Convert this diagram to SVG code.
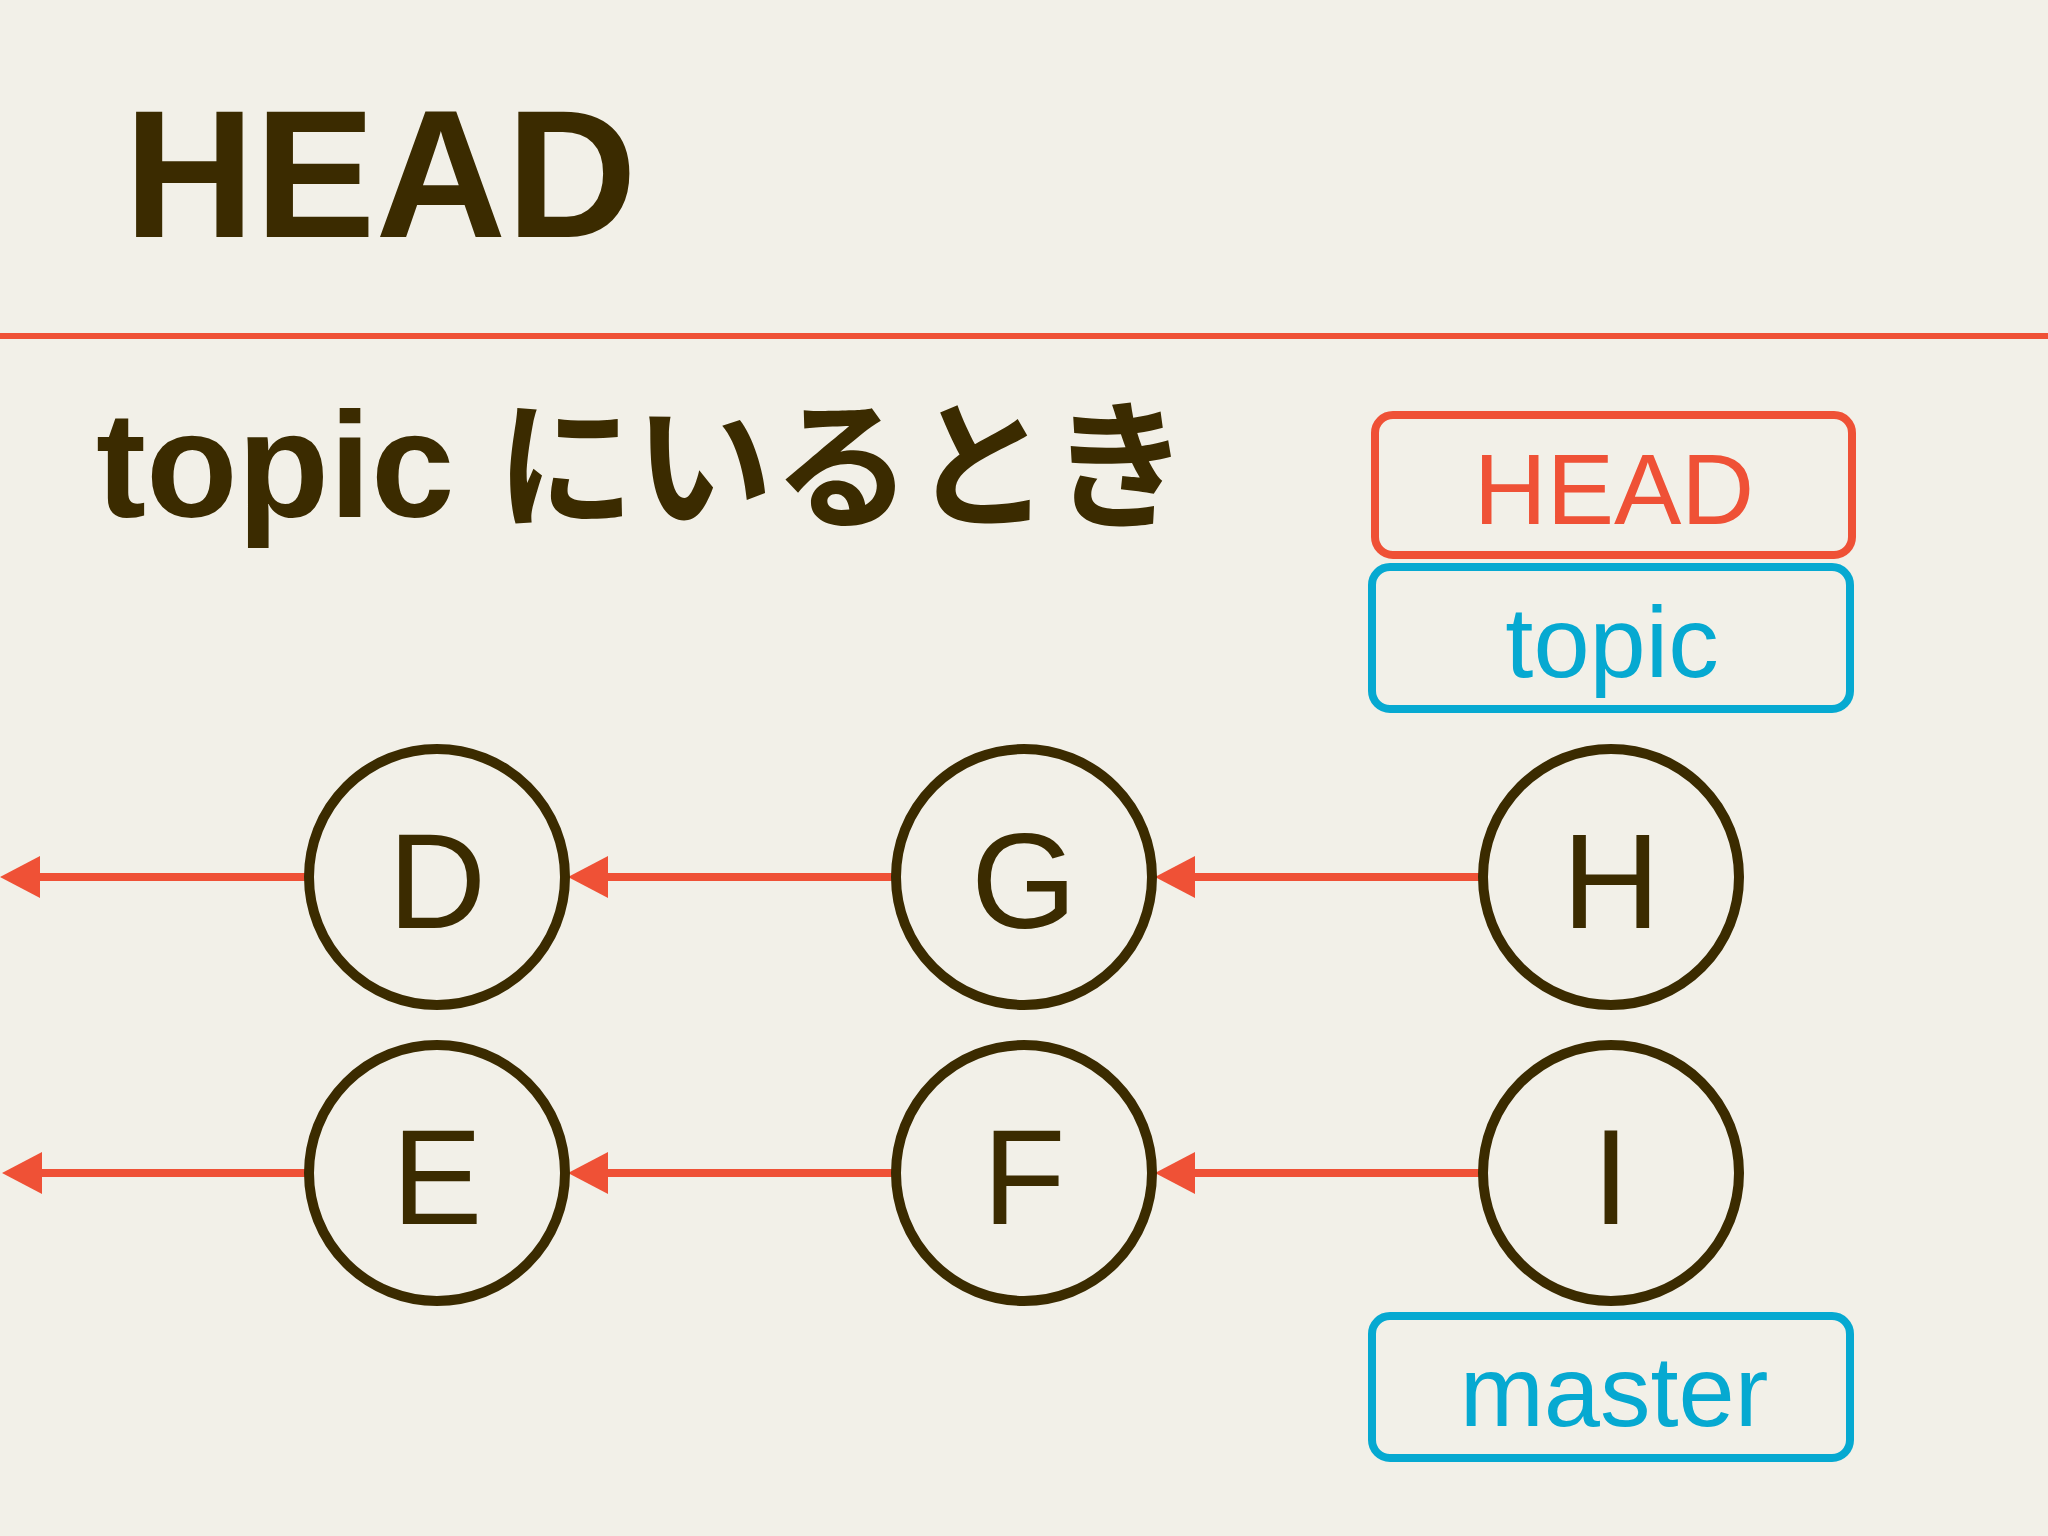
<svg xmlns="http://www.w3.org/2000/svg" width="2048" height="1536" viewBox="0 0 2048 1536">
<style>
.bg{fill:#f2f0e8}
.title{font-family:"Liberation Sans",Arial,sans-serif;font-weight:bold;fill:#3b2b00}
.sub{font-family:"Liberation Sans","Noto Sans CJK JP",sans-serif;font-weight:bold;fill:#3b2b00}
.node circle{fill:none;stroke:#3b2b00;stroke-width:10}
.node text{font-family:"Liberation Sans",Arial,sans-serif;font-size:136px;fill:#3b2b00;text-anchor:middle}
.conn line{stroke:#ef5136;stroke-width:8;fill:none}
.lbl rect{fill:none;stroke-width:8}
.lbl text{font-family:"Liberation Sans",Arial,sans-serif;font-size:101px;text-anchor:middle}
.red rect{stroke:#ef5136}
.red text{fill:#ef5136}
.blue rect{stroke:#06a9d1}
.blue text{fill:#06a9d1}
</style>
<defs>
<marker id="ah" viewBox="0 0 40 42" refX="2" refY="21" markerWidth="40" markerHeight="42" markerUnits="userSpaceOnUse" orient="auto">
<path d="M0,0 L40,21 L0,42 Z" fill="#ef5136"/>
</marker>
</defs>
<rect class="bg" x="0" y="0" width="2048" height="1536"/>
<text class="title" x="124" y="237" font-size="181">HEAD</text>
<rect x="0" y="333" width="2048" height="6" fill="#ef5136"/>
<text class="sub" x="96" y="517" font-size="150">topic <tspan x="496" font-size="140" textLength="693" lengthAdjust="spacingAndGlyphs">にいるとき</tspan></text>

<g id="connectors" class="conn">
<line x1="306" y1="877" x2="38" y2="877" marker-end="url(#ah)"/>
<line x1="893" y1="877" x2="606" y2="877" marker-end="url(#ah)"/>
<line x1="1480" y1="877" x2="1193" y2="877" marker-end="url(#ah)"/>
<line x1="306" y1="1173" x2="40" y2="1173" marker-end="url(#ah)"/>
<line x1="893" y1="1173" x2="606" y2="1173" marker-end="url(#ah)"/>
<line x1="1480" y1="1173" x2="1193" y2="1173" marker-end="url(#ah)"/>
</g>

<g id="node-D" class="node"><circle cx="437" cy="877" r="128"/><text x="437" y="928">D</text></g>
<g id="node-G" class="node"><circle cx="1024" cy="877" r="128"/><text x="1024" y="928">G</text></g>
<g id="node-H" class="node"><circle cx="1611" cy="877" r="128"/><text x="1611" y="928">H</text></g>
<g id="node-E" class="node"><circle cx="437" cy="1173" r="128"/><text x="437" y="1224">E</text></g>
<g id="node-F" class="node"><circle cx="1024" cy="1173" r="128"/><text x="1024" y="1224">F</text></g>
<g id="node-I" class="node"><circle cx="1611" cy="1173" r="128"/><text x="1611" y="1224">I</text></g>

<g id="label-HEAD" class="lbl red"><rect x="1375" y="415" width="477" height="140" rx="18"/><text x="1614" y="524">HEAD</text></g>
<g id="label-topic" class="lbl blue"><rect x="1372" y="567" width="478" height="142" rx="18"/><text x="1612" y="677">topic</text></g>
<g id="label-master" class="lbl blue"><rect x="1372" y="1316" width="478" height="142" rx="18"/><text x="1614" y="1426">master</text></g>
</svg>
